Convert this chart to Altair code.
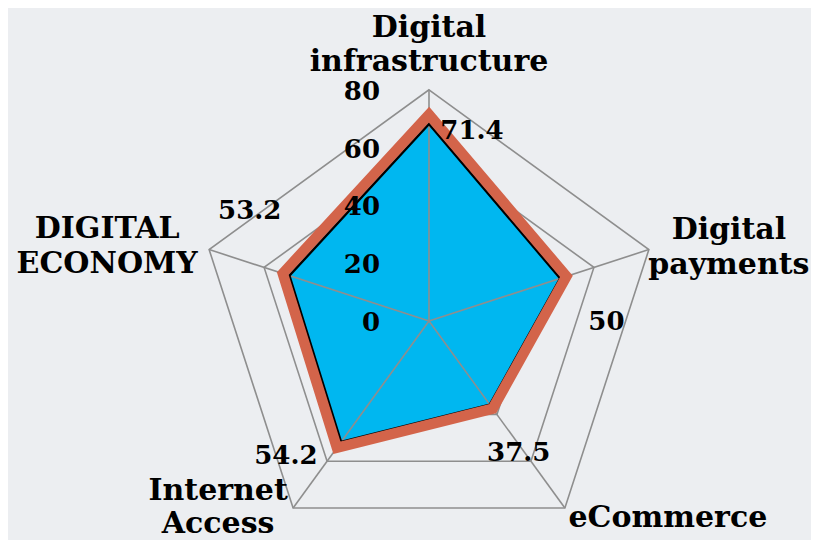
import altair as alt
import pandas as pd

# ---- data ----
categories = ["Digital infrastructure", "Digital payments", "eCommerce",
              "Internet Access", "DIGITAL ECONOMY"]
values = [71.4, 50, 37.5, 54.2, 53.2]
value_labels = ["71.4", "50", "37.5", "54.2", "53.2"]
ticks = [0, 20, 40, 60, 80]
tick_labels = ["0", "20", "40", "60", "80"]
category_lines = [["Digital", "infrastructure"], ["Digital", "payments"],
                  ["eCommerce"], ["Internet", "Access"], ["DIGITAL", "ECONOMY"]]

# ---- layout / style ----
N = len(categories)
PX = 2.89            # pixels per data unit
W, H = 803, 532
CX, CY = 421, 313    # centre of the radar inside the plot
FONT = "DejaVu Serif"
GRID = "#8e8e8e"
BLUE = "#00b7f0"
ORANGE = "#d3644a"
BG = "#eceef1"

xscale = alt.Scale(domain=[-CX / PX, (W - CX) / PX], nice=False, zero=False)
yscale = alt.Scale(domain=[-(H - CY) / PX, CY / PX], nice=False, zero=False)

ANGLE = "PI/2 - 2*PI*datum.idx/" + str(N)


def xy(chart, k=1.0):
    return chart.transform_calculate(
        ang=ANGLE
    ).transform_calculate(
        px=f"{k}*datum.value*cos(datum.ang)",
        py=f"{k}*datum.value*sin(datum.ang)",
    )


def X(f="px"):
    return alt.X(f"{f}:Q", scale=xscale, axis=None)


def Y(f="py"):
    return alt.Y(f"{f}:Q", scale=yscale, axis=None)


series = pd.DataFrame({"category": categories, "value": values,
                       "label": value_labels, "idx": list(range(N))})
rings = pd.DataFrame([{"ring": t, "value": t, "idx": i}
                      for t in ticks[1:] for i in range(N)])
spokes = pd.DataFrame({"idx": list(range(N)), "value": [max(ticks)] * N})
tick_df = pd.DataFrame({"t": ticks, "lab": tick_labels})

layers = []

# grid rings
layers.append(xy(alt.Chart(rings)).mark_line(
    interpolate="linear-closed", stroke=GRID, strokeWidth=1.6
).encode(x=X(), y=Y(), detail="ring:N", order=alt.Order("idx:Q")))

# blue filled polygon
layers.append(xy(alt.Chart(series)).mark_line(
    interpolate="linear-closed", fill=BLUE, stroke=BLUE, strokeWidth=0.5
).encode(x=X(), y=Y(), order=alt.Order("idx:Q")))

# spokes
layers.append(xy(alt.Chart(spokes)).transform_calculate(
    zx="0", zy="0"
).mark_rule(stroke=GRID, strokeWidth=1.6).encode(
    x=X("zx"), y=Y("zy"), x2="px:Q", y2="py:Q"))

# black edge of the fill
layers.append(xy(alt.Chart(series), k=0.955).mark_line(
    interpolate="linear-closed", stroke="#000000", strokeWidth=2.5
).encode(x=X(), y=Y(), order=alt.Order("idx:Q")))

# thick orange outline
layers.append(xy(alt.Chart(series)).mark_line(
    interpolate="linear-closed", stroke=ORANGE, strokeWidth=10.5,
    strokeJoin="miter", strokeMiterLimit=10
).encode(x=X(), y=Y(), order=alt.Order("idx:Q")))

# radial tick labels
layers.append(alt.Chart(tick_df).transform_calculate(zx="0").mark_text(
    font=FONT, fontWeight="bold", fontSize=26, align="right",
    baseline="middle", dx=-49, dy=2, color="#000000"
).encode(x=X("zx"), y=Y("t"), text="lab:N"))

# value labels
val_offsets = [(43, 16), (40, 46), (26, 44), (-51, 8), (-33, -62)]
for i in range(N):
    dx, dy = val_offsets[i]
    layers.append(xy(alt.Chart(series)).transform_filter(
        f"datum.idx == {i}"
    ).mark_text(
        font=FONT, fontWeight="bold", fontSize=26, align="center",
        baseline="middle", dx=dx, dy=dy, color="#000000"
    ).encode(x=X(), y=Y(), text="label:N"))

# category labels (dy is for the first line of each label)
cat_df = pd.DataFrame({"idx": list(range(N)), "value": [max(ticks)] * N,
                       "lines": category_lines})
cat_offsets = [(0, -62, 34), (80, -20, 35), (103, 10, 35),
               (-75, -17, 33), (-102, -21, 35)]
for i in range(N):
    dx, dy, lh = cat_offsets[i]
    layers.append(xy(alt.Chart(cat_df)).transform_filter(
        f"datum.idx == {i}"
    ).mark_text(
        font=FONT, fontWeight="bold", fontSize=30, align="center",
        baseline="middle", dx=dx, dy=dy, lineHeight=lh, color="#000000"
    ).encode(x=X(), y=Y(), text="lines"))

chart = alt.layer(*layers).properties(
    width=W, height=H, padding=0, background=BG,
    autosize=alt.AutoSizeParams(type="none")
).configure_view(strokeWidth=0)

chart.save("out.html", embed_options={"renderer": "svg", "actions": False})
